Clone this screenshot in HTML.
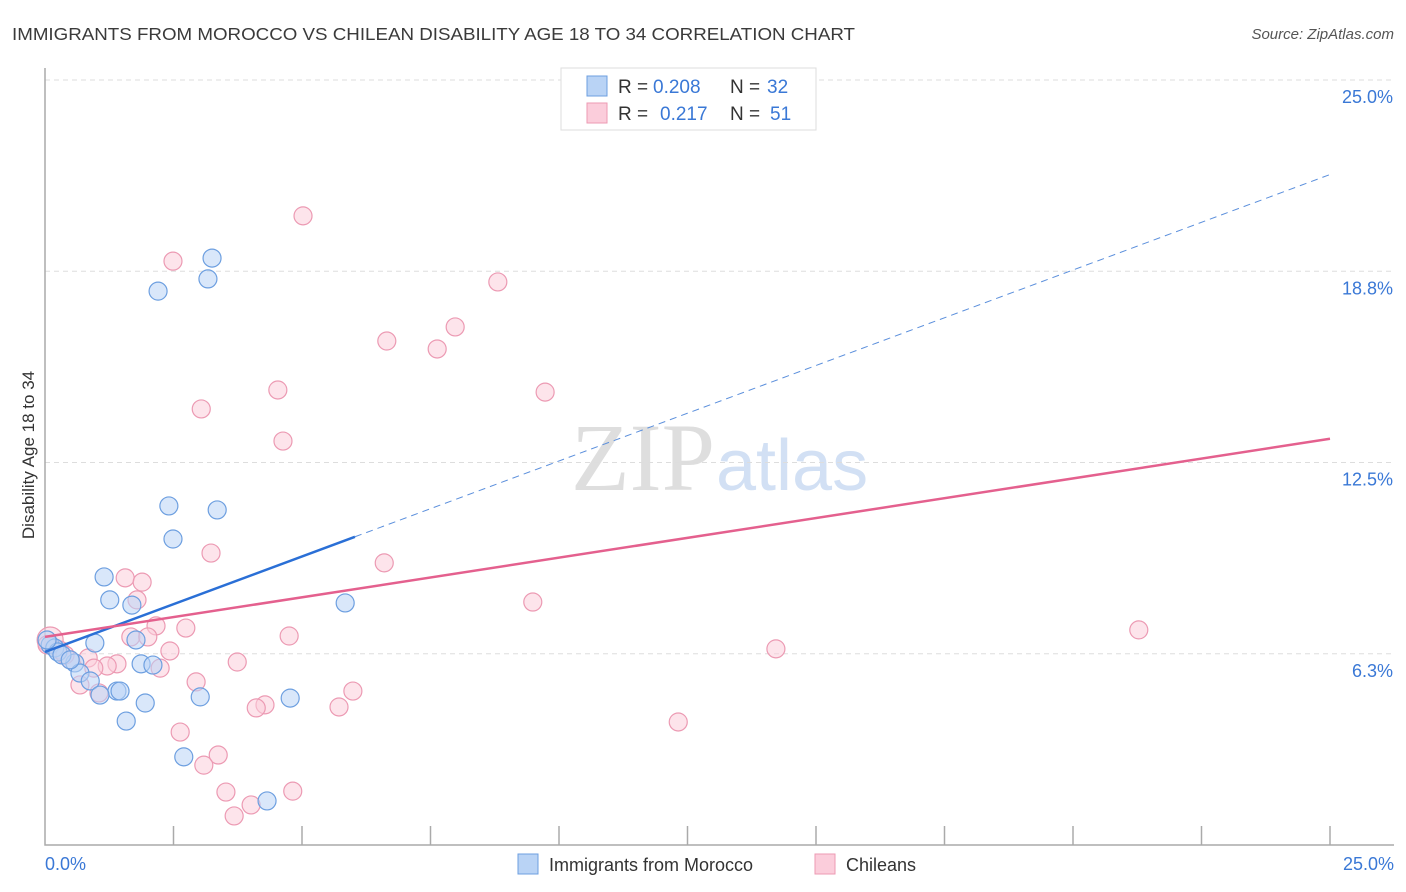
<!DOCTYPE html>
<html><head><meta charset="utf-8"><style>
body{margin:0;background:#fff;font-family:"Liberation Sans",sans-serif}
svg{display:block}
</style></head><body>
<svg id="chart" width="1406" height="892">
<text x="12" y="40" font-size="17.5" fill="#3a3a3a" textLength="843" lengthAdjust="spacingAndGlyphs">IMMIGRANTS FROM MOROCCO VS CHILEAN DISABILITY AGE 18 TO 34 CORRELATION CHART</text>
<text x="1394" y="39" font-size="15" fill="#555" font-style="italic" text-anchor="end">Source: ZipAtlas.com</text>
<text x="715" y="490" font-size="96" fill="#dedede" font-family="Liberation Serif,serif" text-anchor="end">ZIP</text>
<text x="716" y="490" font-size="72" fill="#d2e0f4">atlas</text>
<g id="grid"></g><g id="axes"></g><g id="pts"></g><g id="lines"></g>
<text x="34" y="455" font-size="17" fill="#333" text-anchor="middle" transform="rotate(-90 34 455)">Disability Age 18 to 34</text>
<g>
<rect x="561" y="68" width="255" height="62" fill="#fff" stroke="#ddd"/>
<rect x="587" y="76" width="20" height="20" fill="#b9d3f5" stroke="#6d9fe0"/>
<rect x="587" y="103" width="20" height="20" fill="#fbcddb" stroke="#ec9ab3"/>
<text x="618" y="93" font-size="19" fill="#333">R =</text>
<text x="653" y="93" font-size="19" fill="#3a78d6">0.208</text>
<text x="730" y="93" font-size="19" fill="#333">N =</text>
<text x="767" y="93" font-size="19" fill="#3a78d6">32</text>
<text x="618" y="120" font-size="19" fill="#333">R =</text>
<text x="660" y="120" font-size="19" fill="#3a78d6">0.217</text>
<text x="730" y="120" font-size="19" fill="#333">N =</text>
<text x="770" y="120" font-size="19" fill="#3a78d6">51</text>
</g>
<g>
<rect x="518" y="854" width="20" height="20" fill="#b9d3f5" stroke="#6d9fe0"/>
<text x="549" y="871" font-size="18" fill="#333">Immigrants from Morocco</text>
<rect x="815" y="854" width="20" height="20" fill="#fbcddb" stroke="#ec9ab3"/>
<text x="846" y="871" font-size="18" fill="#333">Chileans</text>
</g>
</svg>
<script>
const blueX=[3.25,3.17,2.20,2.41,3.35,2.49,1.15,1.26,1.69,5.84,1.77,0.97,1.87,2.10,0.58,0.68,0.88,1.40,1.46,1.07,1.95,3.02,4.77,1.58,2.70,4.32,0.10,0.19,0.25,0.33,0.04,0.49];
const blueY=[19.18,18.50,18.10,11.08,10.95,10.00,8.76,8.01,7.84,7.91,6.70,6.60,5.92,5.88,5.95,5.62,5.36,5.03,5.03,4.90,4.64,4.84,4.80,4.05,2.88,1.44,6.54,6.44,6.31,6.21,6.70,6.05];
const pinkX=[5.02,2.49,8.81,7.98,6.65,7.63,9.73,4.53,3.04,4.63,3.23,6.60,1.56,1.89,1.79,9.49,2.16,2.74,4.75,1.67,2.00,21.28,14.22,2.43,0.84,3.74,1.40,1.21,2.24,0.95,2.94,0.68,5.99,4.28,4.11,5.72,1.05,12.32,2.63,3.37,3.09,3.52,4.82,4.01,3.68,0.10,0.29,0.49,0.39,0.04];
const pinkY=[20.56,19.08,18.40,16.93,16.47,16.21,14.80,14.87,14.25,13.20,9.54,9.22,8.73,8.59,8.01,7.94,7.16,7.09,6.83,6.80,6.80,7.03,6.41,6.34,6.11,5.98,5.92,5.85,5.78,5.78,5.33,5.23,5.03,4.58,4.48,4.51,4.97,4.02,3.69,2.94,2.61,1.73,1.76,1.31,0.95,6.70,6.37,6.05,6.21,6.54];
const yTicks=[25,18.75,12.5,6.25];
const yTickLabels=["25.0%","18.8%","12.5%","6.3%"];
const xTicks=[2.5,5,7.5,10,12.5,15,17.5,20,22.5,25];
const blueTrend=[6.31,0.624];
const pinkTrend=[6.80,0.259];
const blueSolidEnd=6.03;
const NS="http://www.w3.org/2000/svg";
const sx=v=>45+v*51.4, sy=v=>845-v*30.6;
function mk(tag,attrs,parent){const e=document.createElementNS(NS,tag);for(const k in attrs)e.setAttribute(k,attrs[k]);document.getElementById(parent).appendChild(e);return e;}
yTicks.forEach((t,i)=>{
 const g=mk('line',{x1:45,x2:1394,y1:sy(t),y2:sy(t),stroke:'#ddd','stroke-dasharray':'5,4'},'grid');
 
 
 const l=mk('text',{x:1393,y:sy(t)+23,'font-size':18,fill:'#3a78d6','text-anchor':'end'},'grid');
 l.textContent=yTickLabels[i];
 
 
});
const ax=mk('path',{d:'M45 68V845H1394',fill:'none',stroke:'#aaa','stroke-width':1.5},'axes');


xTicks.forEach(t=>{
 const k=mk('line',{x1:sx(t),x2:sx(t),y1:826,y2:845,stroke:'#aaa','stroke-width':1.5},'axes');
 
 
});
[[0,'0.0%','start',45],[25,'25.0%','end',1394]].forEach(a=>{
 const l=mk('text',{x:a[3],y:870,'font-size':18,fill:'#3a78d6','text-anchor':a[2]},'axes');
 l.textContent=a[1];
 
 
});
function pts(xs,ys,fill,stroke,name){xs.forEach((x,i)=>{
 const c=mk('circle',{cx:sx(x),cy:sy(ys[i]),r:(x<0.15&&i===xs.length-5&&name==='chilean-point')?13:9,fill:fill,'fill-opacity':0.55,stroke:stroke,'stroke-width':1.2},'pts');
 
 
});}
pts(pinkX,pinkY,'#fbcddb','#ec9ab3','chilean-point');
pts(blueX,blueY,'#b9d3f5','#6d9fe0','morocco-point');
const f=(t,x)=>t[0]+t[1]*x;
let l1=mk('line',{x1:sx(0),y1:sy(f(blueTrend,0)),x2:sx(blueSolidEnd),y2:sy(f(blueTrend,blueSolidEnd)),stroke:'#2a6fd6','stroke-width':2.5},'lines');


let l2=mk('line',{x1:sx(blueSolidEnd),y1:sy(f(blueTrend,blueSolidEnd)),x2:sx(25),y2:sy(f(blueTrend,25)),stroke:'#5b8fdc','stroke-width':1,'stroke-dasharray':'7,5'},'lines');


let l3=mk('line',{x1:sx(0),y1:sy(f(pinkTrend,0)),x2:sx(25),y2:sy(f(pinkTrend,25)),stroke:'#e4608e','stroke-width':2.5},'lines');


</script>
</body></html>
